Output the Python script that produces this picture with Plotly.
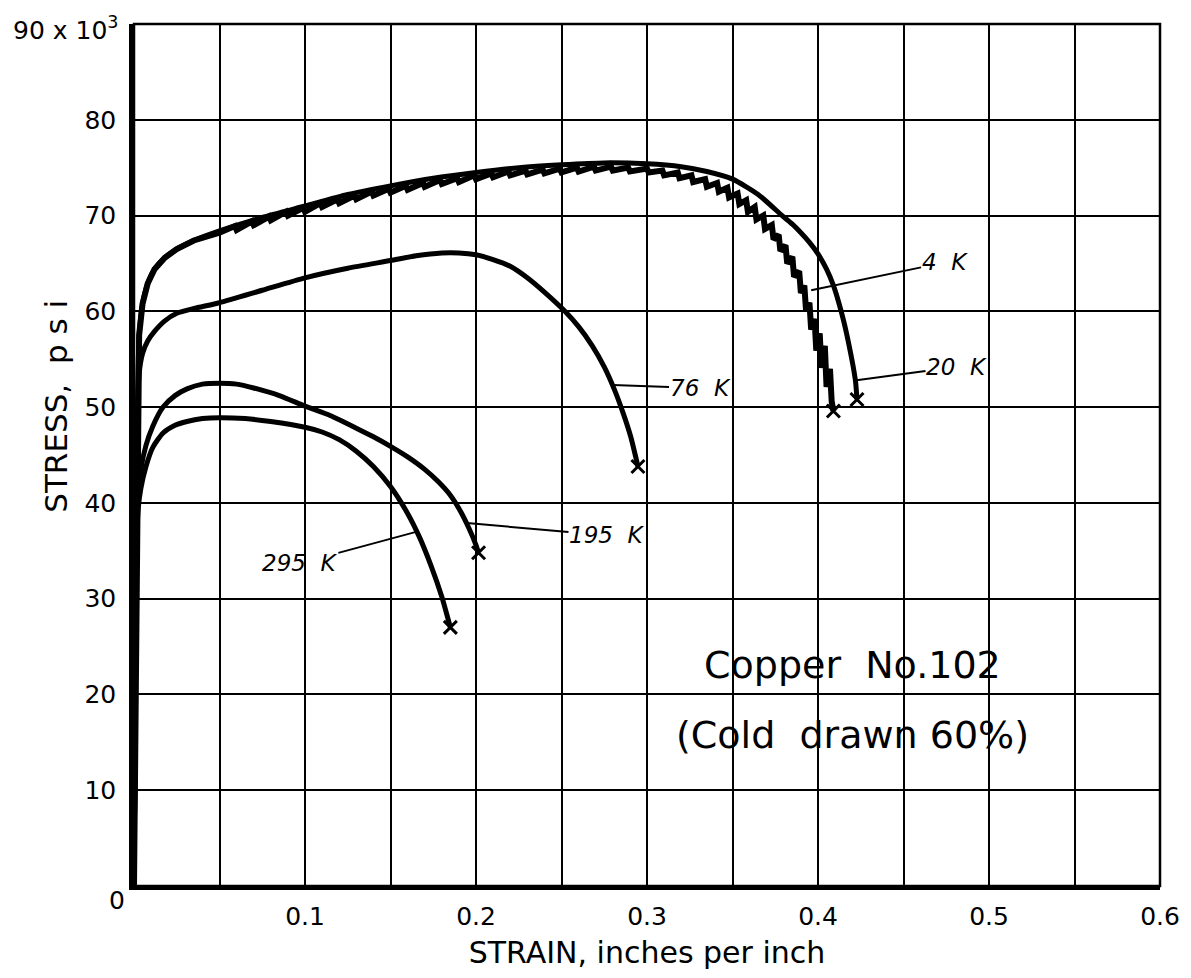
import plotly.graph_objects as go

# ---------------- data ----------------
strain_20K = [0, 0.0008, 0.0015, 0.0022, 0.003, 0.005, 0.008, 0.012, 0.018, 0.025, 0.035, 0.05,
              0.075, 0.1, 0.125, 0.15, 0.175, 0.2, 0.225, 0.25, 0.275, 0.3, 0.32, 0.335, 0.35,
              0.365, 0.379, 0.385, 0.39, 0.395, 0.4, 0.405, 0.409, 0.412, 0.415, 0.418,
              0.4205, 0.422, 0.4228]
stress_20K = [0, 20, 40, 52, 57.5, 60.8, 62.9, 64.4, 65.6, 66.5, 67.4, 68.4,
              69.8, 71.0, 72.2, 73.1, 73.9, 74.5, 75.0, 75.3, 75.5, 75.4, 75.1, 74.6, 73.8,
              72.2, 70.0, 69.1, 68.2, 67.2, 66.0, 64.4, 62.7, 61.0, 59.0, 56.6,
              54.3, 52.6, 50.8]

# 4 K: serrated flow curve (peaks and drops)
strain_4K = [0, 0.0008, 0.0015, 0.0022, 0.003, 0.005, 0.008, 0.012, 0.018, 0.025, 0.035, 0.05,
             0.059, 0.060, 0.069, 0.070, 0.079, 0.080, 0.089, 0.090, 0.099, 0.100,
             0.109, 0.110, 0.119, 0.120, 0.129, 0.130, 0.139, 0.140, 0.149, 0.150,
             0.159, 0.160, 0.169, 0.170, 0.179, 0.180, 0.189, 0.190, 0.199, 0.200,
             0.209, 0.210, 0.219, 0.220, 0.229, 0.230, 0.239, 0.240, 0.249, 0.250,
             0.259, 0.260, 0.269, 0.270, 0.279, 0.280, 0.289, 0.290, 0.300, 0.301,
             0.309, 0.310, 0.318, 0.319, 0.326, 0.327, 0.334, 0.335, 0.341, 0.342,
             0.347, 0.348, 0.353, 0.354, 0.358, 0.359, 0.363, 0.364, 0.368, 0.369,
             0.373, 0.374, 0.377, 0.378, 0.381, 0.382, 0.385, 0.386, 0.389, 0.390,
             0.392, 0.393, 0.395, 0.396, 0.398, 0.399, 0.401, 0.402, 0.404, 0.405,
             0.407, 0.408, 0.409]
stress_4K = [0, 20, 40, 52, 57.5, 60.8, 62.9, 64.4, 65.6, 66.5, 67.4, 68.2,
             68.9, 68.5, 69.4, 69.0, 69.9, 69.5, 70.4, 70.0, 70.8, 70.4,
             71.3, 70.9, 71.7, 71.3, 72.1, 71.7, 72.5, 72.1, 72.8, 72.4,
             73.1, 72.7, 73.4, 73.0, 73.7, 73.3, 73.9, 73.5, 74.2, 73.8,
             74.4, 74.0, 74.6, 74.2, 74.7, 74.3, 74.8, 74.4, 74.9, 74.5,
             75.0, 74.6, 75.1, 74.7, 75.1, 74.7, 75.0, 74.6, 74.9, 74.5,
             74.7, 74.2, 74.5, 73.9, 74.2, 73.5, 73.8, 73.0, 73.4, 72.5,
             72.9, 71.9, 72.3, 71.2, 71.6, 70.4, 70.9, 69.6, 70.0, 68.6,
             69.0, 67.5, 68.0, 66.3, 66.9, 65.0, 65.7, 63.6, 64.2, 61.9,
             62.7, 60.1, 60.9, 58.1, 59.2, 55.9, 57.7, 54.1, 56.4, 52.1,
             54.0, 50.6, 49.6]

strain_76K = [0, 0.0008, 0.0015, 0.0022, 0.003, 0.005, 0.008, 0.012, 0.018, 0.025, 0.035, 0.05,
              0.075, 0.1, 0.125, 0.15, 0.165, 0.18, 0.19, 0.2, 0.21, 0.22, 0.23, 0.24, 0.252,
              0.26, 0.268, 0.275, 0.281, 0.286, 0.2905, 0.2947]
stress_76K = [0, 20, 40, 50, 53.5, 55.6, 56.9, 57.9, 59.0, 59.8, 60.3, 60.9,
              62.2, 63.5, 64.5, 65.3, 65.8, 66.1, 66.1, 65.9, 65.4, 64.7, 63.5, 62.0, 60.0,
              58.4, 56.4, 54.2, 51.8, 49.4, 46.9, 43.8]

strain_195K = [0, 0.0008, 0.0015, 0.0025, 0.004, 0.007, 0.011, 0.017, 0.024, 0.031, 0.04, 0.05,
               0.06, 0.07, 0.085, 0.1, 0.115, 0.13, 0.14, 0.15, 0.16, 0.17, 0.178, 0.185,
               0.191, 0.196, 0.2, 0.2015]
stress_195K = [0, 20, 36, 41, 43.5, 46, 48, 50, 51.2, 51.9, 52.4, 52.5,
               52.4, 52.0, 51.2, 50.1, 49.1, 47.8, 46.9, 45.9, 44.8, 43.5, 42.2, 40.8,
               39.1, 37.3, 35.6, 34.8]

strain_295K = [0, 0.0008, 0.0015, 0.0025, 0.004, 0.007, 0.011, 0.017, 0.024, 0.031, 0.04, 0.05,
               0.065, 0.08, 0.1, 0.11, 0.12, 0.13, 0.14, 0.15, 0.16, 0.167, 0.174, 0.18, 0.185]
stress_295K = [0, 20, 36, 39.5, 41.5, 43.8, 45.8, 47.3, 48.1, 48.5, 48.8, 48.9,
               48.8, 48.5, 47.9, 47.4, 46.6, 45.4, 43.8, 41.7, 38.9, 36.4, 33.3, 30.2, 27.0]

x_tickvals = [0.1, 0.2, 0.3, 0.4, 0.5, 0.6]
x_ticktext = ["0.1", "0.2", "0.3", "0.4", "0.5", "0.6"]
y_tickvals = [10, 20, 30, 40, 50, 60, 70, 80]
y_ticktext = ["10", "20", "30", "40", "50", "60", "70", "80"]
y_top_label = "90 x 10<sup>3</sup>"
origin_label = "0"

FONT = "DejaVu Sans"
INK = "black"

fig = go.Figure()

smooth_series = [
    (strain_295K, stress_295K),
    (strain_195K, stress_195K),
    (strain_76K, stress_76K),
    (strain_20K, stress_20K),
]
for xs, ys in smooth_series:
    fig.add_trace(go.Scatter(x=xs, y=ys, mode="lines",
                             line=dict(color=INK, width=5, shape="spline", smoothing=0.6),
                             hoverinfo="skip", showlegend=False))
# serrated 4 K curve drawn straight between readings
fig.add_trace(go.Scatter(x=strain_4K, y=stress_4K, mode="lines",
                         line=dict(color=INK, width=6, shape="linear"),
                         hoverinfo="skip", showlegend=False))

all_series = smooth_series + [(strain_4K, stress_4K)]
# fracture marks at the end of each curve
fig.add_trace(go.Scatter(
    x=[s[0][-1] for s in all_series], y=[s[1][-1] for s in all_series],
    mode="markers",
    marker=dict(symbol="x-thin", size=13, line=dict(color=INK, width=3)),
    hoverinfo="skip", showlegend=False))

# curve labels with leader lines
label_specs = [
    # text, point on curve (x, y), text centre (ax, ay)
    ("4&nbsp;&nbsp;K", 0.396, 62.2, 0.474, 65.1),
    ("20&nbsp;&nbsp;K", 0.4225, 52.8, 0.481, 54.2),
    ("76&nbsp;&nbsp;K", 0.280, 52.3, 0.331, 52.0),
    ("195&nbsp;&nbsp;K", 0.1947, 37.9, 0.2766, 36.6),
    ("295&nbsp;&nbsp;K", 0.1655, 37.0, 0.097, 33.7),
]
for txt, px, py, tx, ty in label_specs:
    fig.add_annotation(x=px, y=py, ax=tx, ay=ty, xref="x", yref="y", axref="x", ayref="y",
                       text=txt, showarrow=True, arrowhead=0, arrowwidth=2, arrowcolor=INK,
                       standoff=0, borderpad=0,
                       font=dict(family=FONT, size=23, color=INK, style="italic"))

# figure caption inside the plot
fig.add_annotation(x=0.42, y=23.1, xref="x", yref="y", showarrow=False,
                   text="Copper&nbsp;&nbsp;No.102",
                   font=dict(family=FONT, size=38, color=INK))
fig.add_annotation(x=0.42, y=15.8, xref="x", yref="y", showarrow=False,
                   text="(Cold&nbsp;&nbsp;drawn 60%)",
                   font=dict(family=FONT, size=38, color=INK))

# origin label and top y label
fig.add_annotation(x=-0.0166, y=-0.0165, xref="paper", yref="paper", showarrow=False,
                   xanchor="center", yanchor="middle",
                   text=origin_label, font=dict(family=FONT, size=25, color=INK))
fig.add_annotation(x=-0.0136, y=0.995, xref="paper", yref="paper", showarrow=False,
                   xanchor="right", yanchor="middle",
                   text=y_top_label, font=dict(family=FONT, size=25, color=INK))

# y-axis title
fig.add_annotation(x=-0.076, y=0.556, xref="paper", yref="paper", showarrow=False,
                   xanchor="center", yanchor="middle",
                   text="STRESS,&nbsp; p s i", textangle=-90,
                   font=dict(family=FONT, size=31, color=INK))

# frame (top/right thinner, left/bottom via axis lines)
fig.add_shape(type="rect", xref="paper", yref="paper", x0=0, y0=0, x1=1, y1=1,
              line=dict(color=INK, width=2.5), layer="above")

# page body has an 8 px default margin, so the figure is sized to fit inside it
fig.update_layout(
    width=1175, height=962,
    margin=dict(l=126, r=23, t=16, b=84, autoexpand=False),
    paper_bgcolor="white", plot_bgcolor="white",
    font=dict(family=FONT, color=INK),
    xaxis=dict(range=[0, 0.6], tickvals=x_tickvals, ticktext=x_ticktext, automargin=False,
               showgrid=True, gridcolor=INK, gridwidth=2, zeroline=False,
               minor=dict(dtick=0.05, showgrid=True, gridcolor=INK, gridwidth=2),
               showline=True, linecolor=INK, linewidth=4, ticks="",
               ticklabelstandoff=5, tickfont=dict(family=FONT, size=25, color=INK),
               title=dict(text="STRAIN, inches per inch", standoff=20,
                          font=dict(family=FONT, size=30, color=INK))),
    yaxis=dict(range=[0, 90], tickvals=y_tickvals, ticktext=y_ticktext, automargin=False,
               showgrid=True, gridcolor=INK, gridwidth=2, zeroline=False,
               showline=True, linecolor=INK, linewidth=4.5, ticks="",
               ticklabelstandoff=8, tickfont=dict(family=FONT, size=25, color=INK)),
)

fig.write_html("out.html")
